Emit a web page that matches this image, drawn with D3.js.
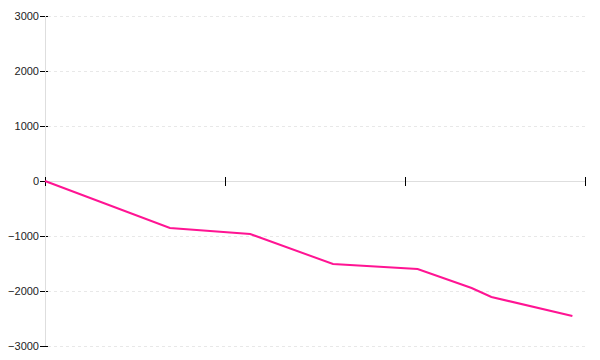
<!DOCTYPE html>
<html lang="en">
<head>
    <meta charset="UTF-8">
    <title>Line Chart</title>
    <style>
        body {
            margin: 0;
            padding: 0;
            background: #fff;
        }

        .tick-label {
            font-family: "Liberation Sans", Arial, sans-serif;
            font-size: 11px;
            fill: #222;
            text-anchor: end;
        }
    </style>
</head>
<body>
<svg id="chart"></svg>

<script src="https://d3js.org/d3.v7.min.js"></script>
<script>
    // data
    var xValues = [0, 6.94, 11.4, 16, 20.7, 23.7, 24.8, 29.3];
    var yValues = [0, -855, -964, -1509, -1600, -1945, -2109, -2455];
    var xTicks = [0, 10, 20, 30];
    var yTicks = [3000, 2000, 1000, 0, -1000, -2000, -3000];

    var points = xValues.map(function (x, i) {
        return { x: x, y: yValues[i] };
    });

    var width = 600, height = 360;
    var plotLeft = 45, plotRight = 585, plotTop = 16, plotBottom = 346;

    var svg = d3.select("#chart")
        .attr("width", width)
        .attr("height", height);

    var x = d3.scaleLinear().domain([0, 30]).range([plotLeft, plotRight]);
    var y = d3.scaleLinear().domain([-3000, 3000]).range([plotBottom, plotTop]);
    var fmt = d3.format("");

    // dashed grid lines
    svg.selectAll(".grid")
        .data(yTicks.filter(d => d !== 0))
        .enter().append("line")
        .attr("x1", plotLeft + 3)
        .attr("x2", plotRight)
        .attr("y1", d => Math.round(y(d)) + 0.5)
        .attr("y2", d => Math.round(y(d)) + 0.5)
        .attr("stroke", "#e8e8e8")
        .attr("stroke-dasharray", "3,3")
        .attr("shape-rendering", "crispEdges");

    // y ticks
    svg.selectAll(".ytick")
        .data(yTicks)
        .enter().append("line")
        .attr("x1", plotLeft - 5)
        .attr("x2", plotLeft + 3)
        .attr("y1", d => Math.round(y(d)) + 0.5)
        .attr("y2", d => Math.round(y(d)) + 0.5)
        .attr("stroke", "#000")
        .attr("shape-rendering", "crispEdges");

    // zero line (x axis)
    svg.append("line")
        .attr("x1", plotLeft)
        .attr("x2", plotRight)
        .attr("y1", Math.round(y(0)) + 0.5)
        .attr("y2", Math.round(y(0)) + 0.5)
        .attr("stroke", "#dedede")
        .attr("shape-rendering", "crispEdges");

    // y axis line
    svg.append("line")
        .attr("x1", plotLeft + 0.5)
        .attr("x2", plotLeft + 0.5)
        .attr("y1", plotTop)
        .attr("y2", plotBottom)
        .attr("stroke", "#dedede")
        .attr("shape-rendering", "crispEdges");

    // x ticks crossing the zero line
    svg.selectAll(".xtick")
        .data(xTicks)
        .enter().append("line")
        .attr("x1", d => Math.round(x(d)) + 0.5)
        .attr("x2", d => Math.round(x(d)) + 0.5)
        .attr("y1", y(0) - 4)
        .attr("y2", y(0) + 5)
        .attr("stroke", "#000")
        .attr("shape-rendering", "crispEdges");

    // y labels
    svg.selectAll(".tick-label")
        .data(yTicks)
        .enter().append("text")
        .attr("class", "tick-label")
        .attr("x", plotLeft - 6)
        .attr("y", d => y(d))
        .attr("dy", "0.35em")
        .text(d => d < 0 ? "\u2212" + fmt(-d) : fmt(d));

    var line = d3.line()
        .x(d => x(d.x))
        .y(d => y(d.y));

    svg.append("path")
        .datum(points)
        .attr("d", line)
        .attr("fill", "none")
        .attr("stroke", "#ff1493")
        .attr("stroke-width", 2);
</script>
</body>
</html>
